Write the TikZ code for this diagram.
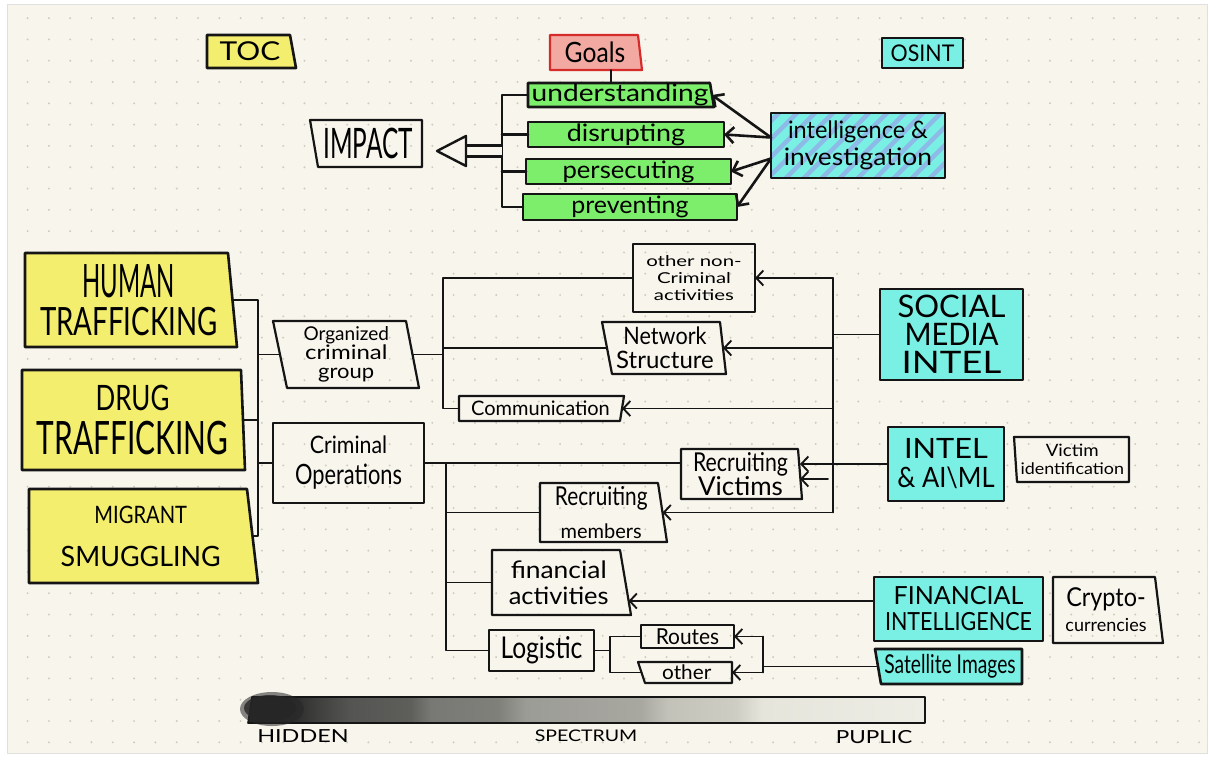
\documentclass[tikz,border=0pt]{standalone}
\usepackage{fontspec}
\usepackage{graphicx}
\usetikzlibrary{arrows.meta,calc}
\newfontfamily\hand{Lato}

% one hand-lettered line: size (pt), horizontal squeeze, text
\newcommand\hw[3]{\scalebox{#2}[1]{\fontsize{#1pt}{#1pt}\selectfont #3}}
% box outline drawn under a node: node, style, x offsets of NW, NE, SE, SW corners
\newcommand\outl[6]{\begin{pgfonlayer}{fills}\path[#2] ([xshift=#3pt]#1.north west) -- ([xshift=#4pt]#1.north east) -- ([xshift=#5pt]#1.south east) -- ([xshift=#6pt]#1.south west) -- cycle;\end{pgfonlayer}}

\definecolor{cream}{HTML}{F7F5EC}
\definecolor{dotc}{HTML}{CFCCC2}
\definecolor{ink}{HTML}{151515}
\definecolor{yel}{HTML}{F4EE6E}
\definecolor{grn}{HTML}{7DEE6C}
\definecolor{cyn}{HTML}{7AF0E5}
\definecolor{redf}{HTML}{F2A9A2}
\definecolor{redd}{HTML}{D62B2B}
\definecolor{blu}{HTML}{8DBAE6}
\definecolor{s1}{HTML}{262626}
\definecolor{s2}{HTML}{2E2E2E}
\definecolor{s3}{HTML}{3E3E3D}
\definecolor{s4}{HTML}{545452}
\definecolor{s5}{HTML}{5E5E5B}
\definecolor{s6}{HTML}{787874}
\definecolor{s7}{HTML}{80807B}
\definecolor{s8}{HTML}{9C9C96}
\definecolor{s9}{HTML}{A8A8A1}
\definecolor{s10}{HTML}{C2C2B9}
\definecolor{s11}{HTML}{CDCDC3}
\definecolor{s12}{HTML}{E6E5DC}
\definecolor{s13}{HTML}{EEEDE5}
\pgfdeclarehorizontalshading{spec}{100bp}{color(0bp)=(s1); color(25bp)=(s1); color(28.5bp)=(s2); color(30bp)=(s3); color(32.5bp)=(s4); color(37bp)=(s5); color(38.5bp)=(s6); color(43.5bp)=(s7); color(45.5bp)=(s8); color(54bp)=(s9); color(56bp)=(s10); color(61bp)=(s11); color(63bp)=(s12); color(75bp)=(s13); color(100bp)=(s13)}

\pgfdeclarelayer{paper}
\pgfdeclarelayer{fills}
\pgfsetlayers{paper,fills,main}

\begin{document}
\begin{tikzpicture}[x=1pt,y=-1pt,
  tx/.style={rectangle, inner sep=0pt, outer sep=0pt, align=center, font=\hand},
  sz/.style 2 args={minimum width=#1pt, minimum height=#2pt},
  gap/.style={font=\hand\fontsize{10pt}{#1pt}\selectfont},
  bline/.style={draw=ink, line width=2.6pt, line join=round},
  ybox/.style={bline, fill=yel},
  gbox/.style={bline, fill=grn},
  cbox/.style={bline, fill=cyn},
  wbox/.style={bline, line width=2.2pt},
  conn/.style={draw=ink, line width=1.9pt, line cap=round, line join=round},
  thick conn/.style={conn, line width=2.6pt},
  arr/.style={conn, -{Straight Barb[length=7pt,width=15pt]}},
  big arr/.style={thick conn, -{Straight Barb[length=8pt,width=16pt]}}]

\useasboundingbox (0,0) rectangle (1214,758);

% paper with dotted grid
\begin{pgfonlayer}{paper}
  \fill[white] (0,0) rectangle (1214,758);
  \filldraw[fill=cream, draw=black!12, line width=0.6pt] (7,4) rectangle (1207,753);
  \foreach \i in {1,...,56}
    \foreach \j in {0,...,34}
      \fill[dotc] (6.3+21.3*\i, 18.1+21.3*\j) circle[radius=1.1pt];
\end{pgfonlayer}

% ---------- headings ----------
\node[tx, sz={86}{33}] (toc) at (250,51.5) {\hw{26}{1.15}{TOC}};
\outl{toc}{ybox}{0}{-3}{3}{0}
\node[tx, sz={90}{35}] (goals) at (595,52.5) {\hw{28}{0.88}{Goals}};
\outl{goals}{draw=redd, line width=2.2pt, fill=redf, line join=round}{0}{-2}{2}{0}
\node[tx, sz={81}{30}] (osint) at (922.5,53) {\hw{23}{0.93}{OSINT}};
\outl{osint}{cbox}{0}{0}{0}{0}

% ---------- goals and impact ----------
\node[tx, sz={108}{47}] (impact) at (368,143.5) {\hw{42}{0.58}{IMPACT}};
\outl{impact}{wbox}{-4}{0}{0}{4}
\node[tx, sz={184}{24}] (und) at (620,95) {\hw{24}{1.17}{understanding}};
\outl{und}{gbox}{0}{-2}{2}{0}
\node[tx, sz={196}{25}] (dis) at (626,134.5) {\hw{24}{1.12}{disrupting}};
\outl{dis}{gbox}{0}{0}{0}{0}
\node[tx, sz={205}{25}] (per) at (628.5,171.5) {\hw{24}{1.07}{persecuting}};
\outl{per}{gbox}{0}{0}{0}{0}
\node[tx, sz={214}{26}] (prev) at (630,207) {\hw{24}{1.04}{preventing}};
\outl{prev}{gbox}{0}{0}{0}{0}

\node[tx, gap=27, sz={174}{65}] (intel) at (858,145.5)
  {\hw{24}{0.98}{intelligence \&}\\\hw{24}{1.1}{investigation}};
\begin{pgfonlayer}{fills}
  \fill[blu] (intel.north west) rectangle (intel.south east);
  \begin{scope}
    \clip (intel.north west) rectangle (intel.south east);
    \foreach \k in {0,...,15}
      \draw[cyn, line width=8pt] ($(intel.south west)+(-72+18*\k,6)$) -- ++(78,-78);
  \end{scope}
  \draw[bline] (intel.north west) rectangle (intel.south east);
\end{pgfonlayer}

\draw[conn] ([xshift=16pt]goals.south) -- ([xshift=16pt]goals.south |- und.north);

\coordinate (brk) at (502,150);
\coordinate (tip) at ([xshift=15pt,yshift=-7.5pt]impact.east);
\draw[thick conn] (und.west) -- (und.west -| brk) -- (prev.west -| brk) -- (prev.west);
\draw[thick conn] (dis.west) -- (dis.west -| brk);
\draw[thick conn] (per.west) -- (per.west -| brk);
\draw[draw=ink, line width=2.4pt, double=cream, double distance=8.5pt] (brk |- tip) -- ($(tip)+(29,0)$);
\draw[draw=ink, line width=2.4pt, fill=cream, line join=round] (tip) -- ++(29,-15) -- ++(0,30) -- cycle;

\draw[big arr] ([yshift=8pt]intel.west) -- (und.east);
\draw[big arr] ([yshift=8pt]intel.west) -- (dis.east);
\draw[big arr] ([yshift=-13pt]intel.west) -- (per.east);
\draw[big arr] ([yshift=-13pt]intel.west) -- (prev.east);

% ---------- crime types ----------
\node[tx, gap=38, sz={207.5}{94}] (hum) at (128.75,300) {\hw{46}{0.52}{HUMAN}\\\hw{39}{0.71}{TRAFFICKING}};
\outl{hum}{ybox}{0}{-4.5}{4.5}{0}
\node[tx, gap=44, sz={221}{100}] (drug) at (132.5,420) {\hw{35}{0.74}{DRUG}\\\hw{46}{0.65}{TRAFFICKING}};
\outl{drug}{ybox}{0}{-2}{2}{0}
\node[tx, gap=43, sz={223.5}{94}] (mig) at (140.75,536) {\hw{24}{0.84}{MIGRANT}\\\hw{28}{0.96}{SMUGGLING}};
\outl{mig}{ybox}{0}{-5.5}{5.5}{0}

\node[tx, gap=19, sz={132.5}{67}] (org) at (346.25,354.5) {\hw{19}{1.0}{Organized}\\\hw{20}{1.2}{criminal}\\\hw{20}{1.1}{group}};
\outl{org}{wbox}{-7}{-6.5}{6.5}{7}
\node[tx, gap=31, sz={151}{80}] (cop) at (348.5,463) {\hw{24}{0.89}{Criminal}\\\hw{28}{0.78}{Operations}};
\outl{cop}{wbox}{0}{0}{0}{0}

\coordinate (lb) at (258,0);
\draw[conn] (hum.east) -- (hum.east -| lb) -- (mig.east -| lb) -- (mig.east);
\draw[conn] (drug.east) -- (drug.east -| lb);
\draw[conn] (org.west -| lb) -- (org.west);
\draw[conn] (cop.west -| lb) -- (cop.west);

% ---------- activities ----------
\node[tx, gap=17, sz={122}{68}] (other) at (694,278) {\hw{15}{1.36}{other non-}\\\hw{15}{1.36}{Criminal}\\\hw{15}{1.36}{activities}};
\outl{other}{wbox}{0}{0}{0}{0}
\node[tx, gap=24, sz={116}{52}] (net) at (665,348) {\hw{24}{0.9}{Network}\\\hw{24}{1.0}{Structure}};
\outl{net}{wbox}{-5}{-3}{3}{5}
\node[tx, sz={163}{25}] (comm) at (540.5,408.5) {\hw{20}{1.0}{Communication}};
\outl{comm}{wbox}{0}{2}{-2}{0}
\node[tx, gap=23, sz={119}{50}] (rcv) at (740.5,474) {\hw{26}{0.82}{Recruiting}\\\hw{26}{1.0}{Victims}};
\outl{rcv}{wbox}{0}{-2}{2}{0}
\node[tx, gap=33, sz={122.5}{59}] (rcm) at (601.25,512.5) {\hw{26}{0.8}{Recruiting}\\\hw{20}{1.0}{members}};
\outl{rcm}{wbox}{0}{-4.5}{4.5}{0}
\node[tx, gap=26, sz={133.5}{65}] (fin) at (558.75,582.5) {\hw{24}{1.1}{financial}\\\hw{24}{1.06}{activities}};
\outl{fin}{wbox}{0}{-5.5}{5.5}{0}
\node[tx, sz={105}{41}] (log) at (541.5,650.5) {\hw{30}{0.82}{Logistic}};
\outl{log}{wbox}{0}{0}{0}{0}
\node[tx, sz={93}{23}] (routes) at (687.5,636.5) {\hw{22}{0.95}{Routes}};
\outl{routes}{wbox}{0}{0}{0}{0}
\node[tx, sz={90.5}{21}] (oth) at (686.75,672.5) {\hw{20}{1.04}{other}};
\outl{oth}{wbox}{-3.5}{0}{0}{3.5}

\coordinate (ob) at (443,0);
\draw[conn] (other.west) -- (other.west -| ob) -- (ob |- comm.west) -- (comm.west);
\draw[conn] (org.east) -- (org.east -| ob);
\draw[conn] (net.west) -- (net.west -| ob);

\coordinate (cv) at (446,0);
\draw[conn] (cop.east) -- (cop.east -| rcv.west);
\draw[conn] (cv |- cop.east) -- (cv |- log.west) -- (log.west);
\draw[conn] (cv |- rcm.west) -- (rcm.west);
\draw[conn] (cv |- fin.west) -- (fin.west);

\coordinate (lv) at (610,0);
\draw[conn] (log.east) -- (log.east -| lv);
\draw[conn] (routes.west) -- (routes.west -| lv) -- (lv |- oth.west) -- (oth.west);

% ---------- intelligence sources ----------
\node[tx, gap=28, sz={143}{91}] (sm) at (951.5,334.5) {\hw{31}{1.0}{SOCIAL}\\\hw{31}{0.94}{MEDIA}\\\hw{31}{1.18}{INTEL}};
\outl{sm}{cbox}{0}{0}{0}{0}
\node[tx, gap=29, sz={116}{74}] (ai) at (946,464) {\hw{28}{1.1}{INTEL}\\\hw{28}{0.91}{\& AI\textbackslash ML}};
\outl{ai}{cbox}{0}{0}{0}{0}
\node[tx, gap=18, sz={113.5}{45}] (vid) at (1072.25,459.5) {\hw{17}{1.1}{Victim}\\\hw{16}{1.12}{identification}};
\outl{vid}{wbox}{-1.5}{0}{0}{1.5}
\node[tx, gap=26, sz={169}{64}] (fi) at (958.5,609) {\hw{25}{1.0}{FINANCIAL}\\\hw{25}{0.86}{INTELLIGENCE}};
\outl{fi}{cbox}{0}{0}{0}{0}
\node[tx, gap=25, sz={106}{66}] (cry) at (1106,610) {\hw{26}{0.9}{Crypto-}\\\hw{18}{1.0}{currencies}};
\outl{cry}{wbox}{0}{-4}{4}{0}
\node[tx, sz={144}{35}] (sat) at (950,666.5) {\hw{26}{0.74}{Satellite Images}};
\outl{sat}{cbox}{-3}{0}{0}{3}

\coordinate (rv) at (833,0);
\draw[conn] (rv |- other.east) -- (rv |- rcm.east);
\draw[conn] (sm.west) -- (sm.west -| rv);
\draw[arr] (rv |- other.east) -- (other.east);
\draw[arr] (rv |- net.east) -- (net.east);
\draw[arr] (rv |- comm.east) -- (comm.east);
\draw[arr] (rv |- rcm.east) -- (rcm.east);
\draw[arr] ($(rv |- rcv.east)+(-5,5)$) -- ($(rcv.east)+(0,5)$);
\draw[arr] (ai.west) -- (ai.west -| rcv.east);
\draw[arr] ($(fi.west)+(0,-8)$) -- ($(fi.west -| fin.east)+(3,-8)$);

\coordinate (sv) at (763,0);
\draw[conn] (sat.west) -- (sat.west -| sv);
\draw[conn] (sv |- routes.east) -- (sv |- oth.east);
\draw[arr] (sv |- routes.east) -- (routes.east);
\draw[arr] (sv |- oth.east) -- (oth.east);

% ---------- hidden / public spectrum ----------
\shade[shading=spec] (252,697) -- (925,697) -- (925,723) -- (248,723) -- cycle;
\draw[draw=ink, line width=1.6pt, line join=round] (252,697) -- (925,697) -- (925,723) -- (248,723) -- cycle;
\fill[s1, opacity=0.55] (272,709) ellipse[x radius=32pt, y radius=17pt];
\fill[s1, opacity=0.8] (270,708) ellipse[x radius=26pt, y radius=13pt];
\node[tx] (hid) at (303,736) {\hw{18}{1.3}{HIDDEN}};
\node[tx] (spc) at (586,736) {\hw{16}{1.22}{SPECTRUM}};
\node[tx] (pup) at (874,737) {\hw{18}{1.25}{PUPLIC}};

\end{tikzpicture}
\end{document}
